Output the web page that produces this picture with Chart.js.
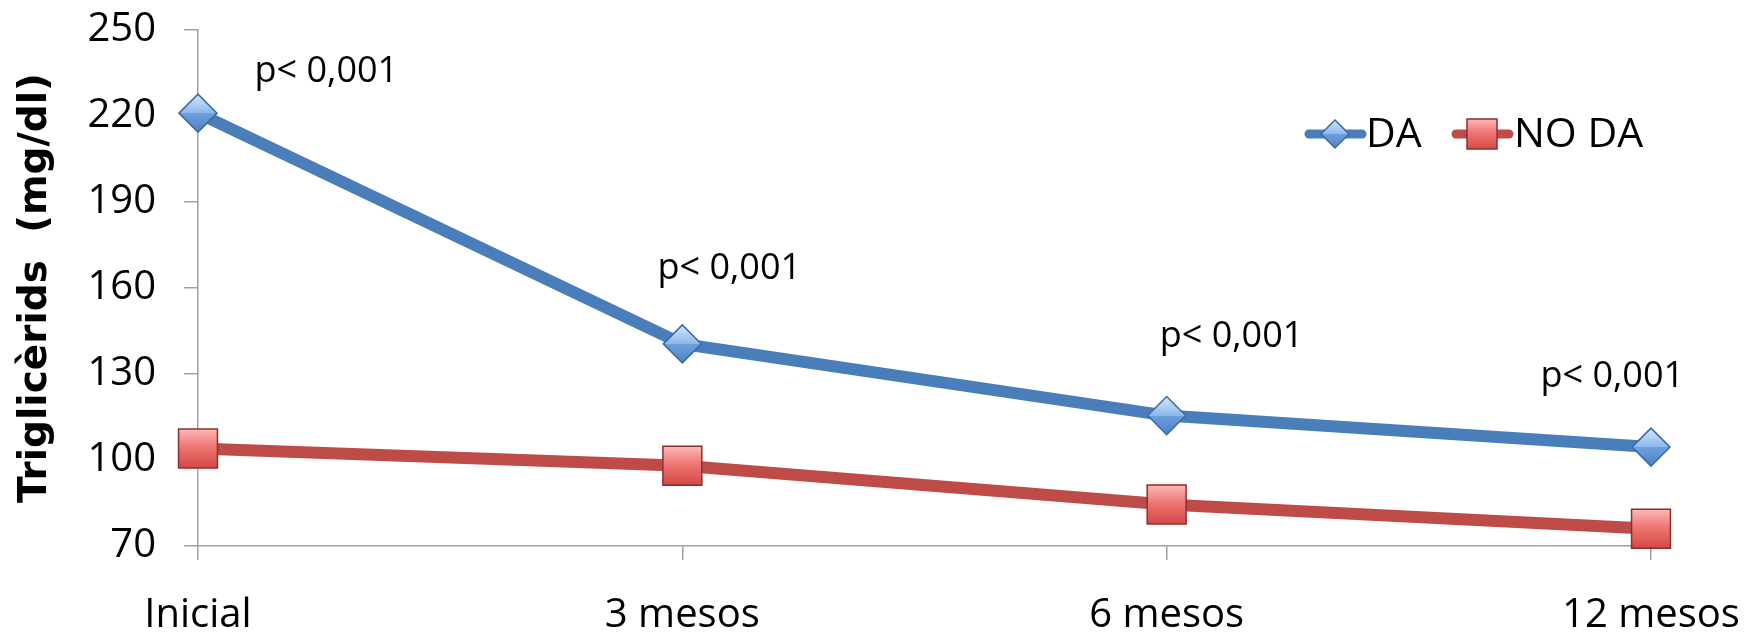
<!DOCTYPE html>
<html>
<head>
<meta charset="utf-8">
<script src="https://cdn.jsdelivr.net/npm/chart.js@4/dist/chart.umd.min.js"></script>
<style>
html,body{margin:0;padding:0;background:#fff;}
#wrap{width:1748px;height:640px;}
</style>
</head>
<body>
<div id="wrap"><canvas id="c" width="1748" height="640"></canvas></div>
<script>
const categories = ['Inicial', '3 mesos', '6 mesos', '12 mesos'];
const daValues = [221, 140.5, 115.5, 104.5];
const noDaValues = [104, 98, 84.5, 76];
const seriesNames = ['DA', 'NO DA'];
const yTicks = [70, 100, 130, 160, 190, 220, 250];
const pLabels = ['p< 0,001', 'p< 0,001', 'p< 0,001', 'p< 0,001'];
// annotation anchors: category offset and value level
const pLabelCatOffset = [0.265, 0.097, 0.134, -0.08];
const pLabelValue = [235.5, 166.6, 142.9, 129.2];

const FONT = '"Open Sans", Lato, sans-serif';
const BLUE = '#4a7ebb';
const RED = '#be4b48';

function pixelY(context, arr) {
  const s = context.chart.scales && context.chart.scales.y;
  if (!s || context.dataIndex === undefined) return NaN;
  return s.getPixelForValue(arr[context.dataIndex]);
}
function blueGrad(ctx, y, h) {
  const g = ctx.createLinearGradient(0, y - h, 0, y + h);
  g.addColorStop(0, '#d3e6fb');
  g.addColorStop(0.5, '#8cb8ec');
  g.addColorStop(0.51, '#6d9fdc');
  g.addColorStop(1, '#4d82c4');
  return g;
}
function redGrad(ctx, y, h) {
  const g = ctx.createLinearGradient(0, y - h, 0, y + h);
  g.addColorStop(0, '#fbb8b6');
  g.addColorStop(0.45, '#ef7674');
  g.addColorStop(1, '#d44a47');
  return g;
}
function diamondFill(context) {
  const y = pixelY(context, daValues);
  if (!isFinite(y)) return '#7aa9e0';
  return blueGrad(context.chart.ctx, y, 19);
}
function squareFill(context) {
  const y = pixelY(context, noDaValues);
  if (!isFinite(y)) return '#e06663';
  return redGrad(context.chart.ctx, y, 19);
}

const pLabelPlugin = {
  id: 'pLabels',
  afterDatasetsDraw(chart) {
    const {ctx, scales} = chart;
    ctx.save();
    ctx.font = '36px ' + FONT;
    ctx.fillStyle = '#000';
    ctx.textAlign = 'center';
    ctx.textBaseline = 'middle';
    pLabels.forEach((t, i) => {
      const x = scales.x.getPixelForValue(i + pLabelCatOffset[i]);
      const y = scales.y.getPixelForValue(pLabelValue[i]);
      ctx.fillText(t, x, y);
    });
    ctx.restore();
  }
};

const legendPlugin = {
  id: 'customLegend',
  afterDraw(chart) {
    const ctx = chart.ctx;
    ctx.save();
    const y = 134;
    ctx.lineCap = 'round';
    ctx.lineWidth = 9;
    ctx.strokeStyle = BLUE;
    ctx.beginPath(); ctx.moveTo(1309, y); ctx.lineTo(1362, y); ctx.stroke();
    ctx.fillStyle = blueGrad(ctx, y, 14);
    ctx.strokeStyle = '#3b6aa3';
    ctx.lineWidth = 1.5;
    ctx.beginPath();
    ctx.moveTo(1335, y - 14); ctx.lineTo(1349, y); ctx.lineTo(1335, y + 14); ctx.lineTo(1321, y); ctx.closePath();
    ctx.fill(); ctx.stroke();
    ctx.font = '41px ' + FONT;
    ctx.fillStyle = '#000';
    ctx.textBaseline = 'middle';
    ctx.textAlign = 'left';
    ctx.fillText(seriesNames[0], 1366, y + 1);
    ctx.lineCap = 'round';
    ctx.lineWidth = 9;
    ctx.strokeStyle = RED;
    ctx.beginPath(); ctx.moveTo(1456, y); ctx.lineTo(1509, y); ctx.stroke();
    ctx.fillStyle = redGrad(ctx, y, 15);
    ctx.strokeStyle = '#8c2f2c';
    ctx.lineWidth = 1.5;
    ctx.fillRect(1467, y - 15, 30, 30);
    ctx.strokeRect(1467, y - 15, 30, 30);
    ctx.fillStyle = '#000';
    ctx.fillText(seriesNames[1], 1514, y + 1);
    ctx.restore();
  }
};

new Chart(document.getElementById('c'), {
  type: 'line',
  data: {
    labels: categories,
    datasets: [
      {
        label: seriesNames[0],
        data: daValues,
        borderColor: BLUE,
        borderWidth: 12,
        pointStyle: 'rectRot',
        pointRadius: 19,
        pointHoverRadius: 19,
        pointBackgroundColor: diamondFill,
        pointBorderColor: '#3b6aa3',
        pointBorderWidth: 1.5,
        tension: 0,
        clip: false
      },
      {
        label: seriesNames[1],
        data: noDaValues,
        borderColor: RED,
        borderWidth: 12,
        pointStyle: 'rect',
        pointRadius: 27.5,
        pointHoverRadius: 27.5,
        pointBackgroundColor: squareFill,
        pointBorderColor: '#8c2f2c',
        pointBorderWidth: 1.5,
        tension: 0,
        clip: false
      }
    ]
  },
  options: {
    responsive: false,
    animation: false,
    events: [],
    layout: { autoPadding: false, padding: { top: 30, right: 97, left: 0, bottom: 0 } },
    plugins: {
      legend: { display: false },
      tooltip: { enabled: false }
    },
    scales: {
      x: {
        offset: false,
        grid: { display: true, drawOnChartArea: false, color: '#a0a0a0', tickLength: 14, lineWidth: 1.5 },
        border: { color: '#a0a0a0', width: 1.5 },
        ticks: { font: { family: FONT, size: 40 }, color: '#000', padding: 32, maxRotation: 0, autoSkip: false },
        afterFit(scale) { scale.height = 94; scale.paddingLeft = 0; scale.paddingRight = 0; }
      },
      y: {
        min: 70,
        max: 250,
        afterBuildTicks(scale) { scale.ticks = yTicks.map(v => ({ value: v })); },
        grid: { display: true, drawOnChartArea: false, color: '#a0a0a0', tickLength: 14, lineWidth: 1.5 },
        border: { color: '#a0a0a0', width: 1.5 },
        ticks: { font: { family: FONT, size: 40 }, color: '#000', padding: 28 },
        title: {
          display: true,
          text: 'Triglicèrids  (mg/dl)',
          font: { family: '"DejaVu Sans", sans-serif', size: 39, weight: 'bold' },
          color: '#000',
          padding: { top: 12, bottom: 0 }
        },
        afterFit(scale) { scale.width = 198; scale.paddingTop = 0; scale.paddingBottom = 0; }
      }
    }
  },
  plugins: [pLabelPlugin, legendPlugin]
});
</script>
</body>
</html>
